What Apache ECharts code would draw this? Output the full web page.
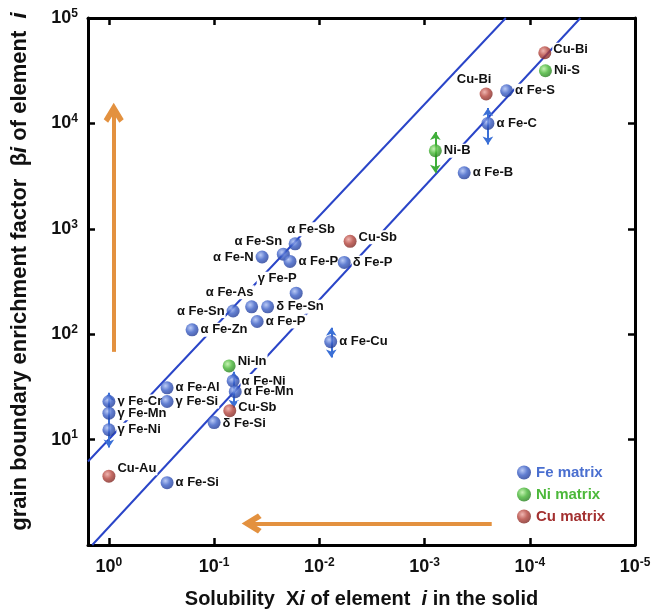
<!DOCTYPE html>
<html>
<head>
<meta charset="utf-8">
<script src="https://cdn.jsdelivr.net/npm/echarts@6/dist/echarts.min.js"></script>
<style>
  html, body { margin: 0; padding: 0; background: #fff; }
  #main { width: 662px; height: 614px; }
</style>
</head>
<body>
<div id="main"></div>
<script>
// Fe matrix
var feNames = ['α Fe-S', 'α Fe-C', 'α Fe-B', 'δ Fe-P', 'α Fe-Sb', 'α Fe-Sn', 'α Fe-N', 'α Fe-P',
  'γ Fe-P', 'α Fe-Sn', 'α Fe-As', 'δ Fe-Sn', 'α Fe-Zn', 'α Fe-P', 'α Fe-Cu', 'α Fe-Ni',
  'α Fe-Mn', 'δ Fe-Si', 'α Fe-Al', 'γ Fe-Si', 'γ Fe-Cr', 'γ Fe-Mn', 'γ Fe-Ni', 'α Fe-Si'];
var feX = [1.66e-4, 2.5e-4, 4.2e-4, 5.8e-3, 0.017, 0.022, 0.035, 0.019,
  0.0166, 0.066, 0.044, 0.031, 0.162, 0.039, 7.8e-3, 0.066,
  0.063, 0.10, 0.28, 0.28, 1.0, 1.0, 1.0, 0.28];
var feY = [20400, 10000, 3400, 480, 720, 575, 540, 490,
  245, 166, 182, 182, 110, 132, 85, 36,
  28.5, 14.5, 31, 23, 23, 17.8, 12.4, 3.9];

// Ni matrix
var niNames = ['Ni-S', 'Ni-B', 'Ni-In'];
var niX = [7.1e-5, 7.9e-4, 0.072];
var niY = [31600, 5500, 50];

// Cu matrix
var cuNames = ['Cu-Bi', 'Cu-Bi', 'Cu-Sb', 'Cu-Sb', 'Cu-Au'];
var cuX = [7.2e-5, 2.6e-4, 5.1e-3, 0.071, 1.0];
var cuY = [46800, 19000, 760, 18.8, 4.5];

// ranges drawn as small double arrows: [x, yHigh, yLow]
var feRanges = [[1.0, 27.9, 8.4], [0.065, 44, 20], [7.7e-3, 115, 60], [2.5e-4, 14000, 6300]];
var niRanges = [[7.9e-4, 8300, 3400]];

// guide lines (straight in log-log space)
var guideUpper = [[1.58, 6.2], [1.69e-4, 1e5]];
var guideLower = [[1.44, 1], [3.3e-5, 1e5]];

// big orange arrows
var arrowUp = [[0.9, 68], [0.9, 12600]];
var arrowLeft = [[2.3e-4, 1.6], [0.044, 1.6]];

// label placement, same order as the names
var feLabelPos = ['r', 'r', 'r', 'r', ['top', 16, 0], ['top', -25, 2], 'left', 'r',
  ['top', -19, 0], 'left', ['top', -22, 0], 'r', 'r', 'r', 'r', 'r',
  'r', ['right', 0, 1], 'r', 'r', 'r', 'r', 'r', 'r'];
var niLabelPos = ['r', 'r', ['right', 0, -5]];
var cuLabelPos = [['right', 0, -3], ['top', -12, 0], ['right', 0, -4], ['right', 0, -3], ['right', 0, -8]];

function pts(names, xs, ys, pos) {
  return names.map(function (n, i) {
    var p = pos[i], lab;
    if (p === 'r') lab = { position: 'right' };
    else if (typeof p === 'string') lab = { position: p };
    else lab = { position: p[0], offset: [p[1], p[2]] };
    return { name: n, value: [xs[i], ys[i]], label: lab };
  });
}

function ball(light, mid, dark) {
  return {
    type: 'radial', x: 0.38, y: 0.35, r: 0.7,
    colorStops: [{ offset: 0, color: light }, { offset: 0.5, color: mid }, { offset: 1, color: dark }]
  };
}

function rangeLines(r) {
  return r.map(function (a) { return { coords: [[a[0], a[1]], [a[0], a[2]]] }; });
}

function powLabel(hideZero) {
  return function (v) {
    var e = Math.log10(v), k = Math.round(e);
    if (Math.abs(e - k) > 0.01) return '';
    if (hideZero && k === 0) return '';
    return '{b|10}{s|' + k + '}';
  };
}

var tickRich = {
  b: { fontSize: 18, fontWeight: 'bold', color: '#111', fontFamily: 'Liberation Sans' },
  s: { fontSize: 12, fontWeight: 'bold', color: '#111', fontFamily: 'Liberation Sans', padding: [0, 0, 9, 0] }
};

var axisCommon = {
  type: 'log', logBase: 10,
  axisLine: { show: true, lineStyle: { color: '#000', width: 3 } },
  axisTick: { show: true, inside: true, length: 7, lineStyle: { color: '#000', width: 2.5 } },
  splitLine: { show: false }, minorTick: { show: false }
};

var labelStyle = {
  show: true, formatter: '{b}', fontSize: 13, fontWeight: 'bold', color: '#111', opacity: 1,
  fontFamily: 'Liberation Sans', backgroundColor: '#fff', padding: [0, 1], lineHeight: 14, distance: 1
};

var SIZE = 13;

// labels go in their own series with see-through symbols so the balls sit on top of them
function labelSeries(names, xs, ys, pos) {
  return {
    type: 'scatter', z: 3, symbolSize: SIZE, silent: true,
    itemStyle: { color: 'rgba(0,0,0,0)' }, label: labelStyle,
    data: pts(names, xs, ys, pos)
  };
}

function ballSeries(name, names, xs, ys, color) {
  return {
    name: name, type: 'scatter', z: 4, symbolSize: SIZE,
    itemStyle: { color: color }, label: { show: false },
    data: names.map(function (n, i) { return { name: n, value: [xs[i], ys[i]] }; })
  };
}

var chevron = 'path://M0,7.5L5,0L10,7.5L7.8,9.2L5,5L2.2,9.2Z';

var chart = echarts.init(document.getElementById('main'));
chart.setOption({
  animation: false,
  grid: { left: 88, right: 27, top: 18, bottom: 67 },
  legend: {
    orient: 'vertical', left: 512, top: 460, itemGap: 7, itemWidth: 14, itemHeight: 14,
    icon: 'circle',
    textStyle: { fontSize: 15, fontWeight: 'bold', fontFamily: 'Liberation Sans' },
    data: [
      { name: 'Fe matrix', textStyle: { color: '#4a6fd0' } },
      { name: 'Ni matrix', textStyle: { color: '#4cb83a' } },
      { name: 'Cu matrix', textStyle: { color: '#a33030' } }
    ]
  },
  xAxis: [
    Object.assign({}, axisCommon, {
      min: 1e-5, max: 1.58, inverse: true, position: 'bottom',
      axisLabel: { formatter: powLabel(false), margin: 12, rich: tickRich },
      name: '{b|Solubility  X}{i|i}{b| of element  }{i|i}{b| in the solid}',
      nameLocation: 'middle', nameGap: 44,
      nameTextStyle: {
        rich: {
          b: { fontSize: 20, fontWeight: 'bold', color: '#111', fontFamily: 'Liberation Sans' },
          i: { fontSize: 20, fontWeight: 'bold', fontStyle: 'italic', color: '#111', fontFamily: 'Liberation Sans' }
        }
      }
    }),
    Object.assign({}, axisCommon, {
      min: 1e-5, max: 1.58, inverse: true, position: 'top',
      axisLabel: { show: false }
    })
  ],
  yAxis: [
    Object.assign({}, axisCommon, {
      min: 1, max: 1e5, position: 'left',
      axisLabel: { formatter: powLabel(true), margin: 10, rich: tickRich },
      name: '{b|grain boundary enrichment factor  β}{i|i}{b| of element  }{i|i}',
      nameLocation: 'middle', nameGap: 57,
      nameTextStyle: {
        padding: [0, 0, 0, 20],
        rich: {
          b: { fontSize: 22, fontWeight: 'bold', color: '#111', fontFamily: 'Liberation Sans' },
          i: { fontSize: 22, fontWeight: 'bold', fontStyle: 'italic', color: '#111', fontFamily: 'Liberation Sans' }
        }
      }
    }),
    Object.assign({}, axisCommon, {
      min: 1, max: 1e5, position: 'right',
      axisLabel: { show: false }
    })
  ],
  series: [
    {
      type: 'line', data: guideUpper, showSymbol: false, symbol: 'none', z: 1, silent: true,
      lineStyle: { color: '#2a45c8', width: 2 }
    },
    {
      type: 'line', data: guideLower, showSymbol: false, symbol: 'none', z: 1, silent: true,
      lineStyle: { color: '#2a45c8', width: 2 }
    },
    {
      type: 'lines', coordinateSystem: 'cartesian2d', z: 1, silent: true,
      symbol: ['none', chevron], symbolSize: [24, 20],
      lineStyle: { color: '#e3913f', width: 4, opacity: 1 },
      data: [{ coords: arrowUp }, { coords: arrowLeft }]
    },
    {
      type: 'lines', coordinateSystem: 'cartesian2d', z: 2, silent: true,
      symbol: ['arrow', 'arrow'], symbolSize: 8,
      lineStyle: { color: '#3a6fd6', width: 2, opacity: 1 },
      data: rangeLines(feRanges)
    },
    {
      type: 'lines', coordinateSystem: 'cartesian2d', z: 2, silent: true,
      symbol: ['arrow', 'arrow'], symbolSize: 8,
      lineStyle: { color: '#3fae3a', width: 2, opacity: 1 },
      data: rangeLines(niRanges)
    },
    labelSeries(feNames, feX, feY, feLabelPos),
    labelSeries(niNames, niX, niY, niLabelPos),
    labelSeries(cuNames, cuX, cuY, cuLabelPos),
    ballSeries('Fe matrix', feNames, feX, feY, ball('#a9bdf3', '#3b5fc6', '#1e3791')),
    ballSeries('Ni matrix', niNames, niX, niY, ball('#b8f0a0', '#45b534', '#237a1c')),
    ballSeries('Cu matrix', cuNames, cuX, cuY, ball('#eba39d', '#b4443c', '#7a2420'))
  ]
});
</script>
</body>
</html>
